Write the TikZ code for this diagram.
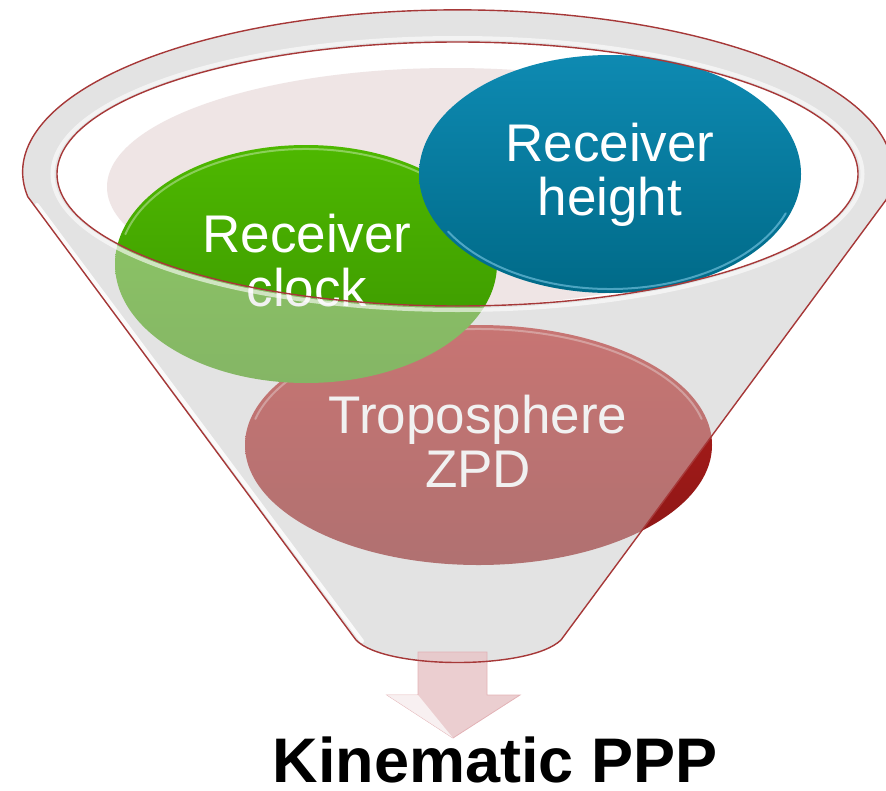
\documentclass[tikz,border=0pt]{standalone}
\usepackage{fontspec}
\setmainfont{Liberation Sans}
\usetikzlibrary{shapes.geometric}
\definecolor{rimred}{HTML}{A63838}
\definecolor{funnelgray}{HTML}{E6E6E6}
\definecolor{veilgray}{HTML}{E0E0E0}
\definecolor{pinkliq}{HTML}{EFE5E5}
\definecolor{bluetop}{HTML}{0E8AB2}
\definecolor{bluebot}{HTML}{006A88}
\definecolor{greentop}{HTML}{4EB800}
\definecolor{greenbot}{HTML}{3A9400}
\definecolor{redtop}{HTML}{B41E1A}
\definecolor{redbot}{HTML}{8A1616}
\definecolor{arrowpink}{HTML}{E8C6C8}
\definecolor{arrowedge}{HTML}{E2B2B6}
\tikzset{
  bubble/.style={ellipse, draw=none, inner sep=0pt},
  bubbletext/.style={text=white, align=center, inner sep=0pt,
    font=\fontsize{53}{54}\selectfont},
  rimline/.style={draw=rimred, line width=1.4pt},
  glow/.style={draw=white, line width=4pt, opacity=0.85},
  bevel/.style={draw=white, line width=2pt, opacity=0.35, line cap=round},
}
\begin{document}
\begin{tikzpicture}[x=1pt,y=-1pt]
\useasboundingbox (0,0) rectangle (886,790);
\clip (0,0) rectangle (886,790);

% funnel body
\fill[funnelgray] (28,197) -- (356,640) .. controls (385,670) and (530,670) .. (561,640)
  -- (886,200) arc[start angle=10, end angle=-188.9, x radius=435, y radius=162] -- cycle;

% inner opening
\fill[white] (457.5,174) ellipse[x radius=400.5, y radius=132];
\begin{scope}
  \clip (457.5,174) ellipse[x radius=400.5, y radius=132];
  \fill[pinkliq] (452,187) ellipse[x radius=345, y radius=119];
\end{scope}

% bubbles
\node[bubble, top color=redtop, bottom color=redbot,
  minimum width=467pt, minimum height=240pt] (tropo) at (478.5,445) {};
\draw[bevel] (tropo.center) ++(193:229 and 116) arc[start angle=193, end angle=347, x radius=229, y radius=116];
\node[bubble, top color=greentop, bottom color=greenbot,
  minimum width=382pt, minimum height=238pt] (clock) at (306,264) {};
\draw[bevel] (clock.center) ++(195:187 and 115) arc[start angle=195, end angle=345, x radius=187, y radius=115];
\node[bubble, top color=bluetop, bottom color=bluebot,
  minimum width=382pt, minimum height=238pt] (height) at (610,174) {};
\draw[bevel, draw=cyan!40!white, opacity=0.5] (height.center) ++(150:187 and 115) arc[start angle=150, end angle=20, x radius=187, y radius=115];

% bubble texts
\node[bubbletext] (clockt) at (307,261) {Receiver\\clock};
\node[bubbletext] (heightt) at (610,175) {Receiver\\height};
\node[bubbletext] (tropot) at (478,441) {Troposphere\\ZPD};

% translucent front of the funnel
\fill[veilgray, opacity=0.45, even odd rule]
  (28,197) -- (356,640) .. controls (385,670) and (530,670) .. (561,640)
  -- (886,200) arc[start angle=10, end angle=-188.9, x radius=435, y radius=162] -- cycle
  (457.5,174) ellipse[x radius=400.5, y radius=132];

% highlights
\draw[glow, line cap=round] (37,205) -- (362,641);
\draw[glow, opacity=0.6] (457.5,174) ellipse[x radius=405, y radius=136];

% output arrow
\path[fill=arrowpink, fill opacity=0.85, draw=arrowedge, line width=0.8pt]
  (418,652) -- (487,652) -- (487,695) -- (520,695) -- (453,738) -- (387,695) -- (418,695) -- cycle;
\fill[white, opacity=0.7] (387,695) -- (418,695) -- (453,738) -- cycle;

% outlines
\draw[rimline, line join=round] (28,197) -- (356,640) .. controls (385,670) and (530,670) .. (561,640)
  -- (886,200) arc[start angle=10, end angle=-188.9, x radius=435, y radius=162] -- cycle;
\draw[rimline] (457.5,174) ellipse[x radius=400.5, y radius=132];

% result
\node[font=\fontsize{63}{66}\selectfont\bfseries, anchor=base, inner sep=0pt] (result) at (495,782) {Kinematic PPP};
\end{tikzpicture}
\end{document}
